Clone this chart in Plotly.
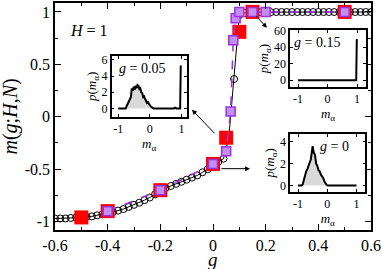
import plotly.graph_objects as go

# ---------------- data ----------------
# main curve (open circles)
circ_g = [-0.60, -0.58, -0.56, -0.54, -0.52, -0.50, -0.48, -0.46, -0.44, -0.42,
          -0.40, -0.38, -0.36, -0.34, -0.32, -0.30, -0.28, -0.26, -0.24, -0.22,
          -0.20, -0.18, -0.16, -0.14, -0.12, -0.10, -0.08, -0.06, -0.04, -0.02,
          0.00, 0.02, 0.04, 0.06, 0.08, 0.10, 0.12, 0.14, 0.16, 0.18,
          0.20, 0.22, 0.24, 0.26, 0.28, 0.30, 0.32, 0.34, 0.36, 0.38,
          0.40, 0.42, 0.44, 0.46, 0.48, 0.50, 0.52, 0.54, 0.56, 0.58, 0.60]
circ_m = [-0.97, -0.97, -0.97, -0.965, -0.96, -0.96, -0.955, -0.95, -0.94, -0.93,
          -0.92, -0.91, -0.895, -0.88, -0.86, -0.84, -0.82, -0.795, -0.77, -0.74,
          -0.71, -0.68, -0.66, -0.64, -0.62, -0.60, -0.58, -0.56, -0.53, -0.50,
          -0.47, -0.43, -0.40, -0.20, 0.36, 0.97, 0.99, 0.995, 0.997, 0.998,
          0.998, 0.998, 0.999, 0.999, 0.999, 0.999, 0.999, 0.999, 0.999, 0.999,
          0.999, 0.999, 0.999, 0.999, 0.999, 0.999, 0.999, 0.999, 0.999, 0.999, 0.999]

# red squares
red_g = [-0.50, -0.40, -0.20, 0.00, 0.05, 0.10, 0.15, 0.50]
red_m = [-0.96, -0.90, -0.70, -0.45, -0.20, 0.81, 1.00, 1.00]

# purple squares
pur_g = [-0.40, -0.20, 0.00, 0.05, 0.067, 0.077, 0.086, 0.10, 0.15, 0.20, 0.50]
pur_m = [-0.90, -0.70, -0.45, -0.33, 0.05, 0.73, 0.94, 1.00, 1.00, 1.00, 1.00]

# inset histograms
h05_m = [-1.00, -0.76, -0.72, -0.68, -0.64, -0.60, -0.57, -0.54, -0.51, -0.48,
         -0.45, -0.42, -0.39, -0.36, -0.33, -0.30, -0.27, -0.24, -0.21, -0.18,
         -0.15, -0.12, -0.09, -0.06, -0.03, 0.00, 0.04, 0.08, 0.12, 0.76,
         0.80, 0.84, 0.96, 0.98]
h05_p = [0.0, 0.0, 0.4, 0.7, 1.0, 1.4, 2.5, 2.2, 2.7, 2.3,
         2.8, 2.5, 2.9, 2.8, 2.4, 2.5, 2.0, 1.9, 1.4, 1.5,
         1.2, 1.0, 0.7, 0.8, 0.5, 0.4, 0.2, 0.1, 0.0, 0.0,
         0.1, 0.0, 0.0, 5.3]

h15_m = [-1.00, 0.97, 0.99]
h15_p = [0.0, 0.0, 50.0]

h00_m = [-1.00, -0.88, -0.84, -0.80, -0.76, -0.72, -0.68, -0.64, -0.60, -0.56,
         -0.52, -0.50, -0.46, -0.42, -0.38, -0.34, -0.30, -0.26, -0.22, -0.18,
         -0.14, -0.10, -0.06, -0.02, 0.02, 1.00]
h00_p = [0.0, 0.0, 0.1, 0.6, 0.9, 1.3, 1.5, 1.9, 2.1, 2.4,
         3.4, 3.6, 3.0, 2.8, 2.0, 1.8, 1.4, 1.3, 1.0, 0.85,
         0.7, 0.4, 0.2, 0.05, 0.0, 0.0]

x_ticks = [-0.6, -0.4, -0.2, 0, 0.2, 0.4, 0.6]
x_ticktext = ["-0.6", "-0.4", "-0.2", "0", "0.2", "0.4", "0.6"]
y_ticks = [-1, -0.5, 0, 0.5, 1]
y_ticktext = ["-1", "-0.5", "0", "0.5", "1"]

FONT = "Liberation Serif"

fig = go.Figure()

fig.add_trace(go.Scatter(x=circ_g, y=circ_m, mode="lines+markers",
                         line=dict(color="black", width=1),
                         marker=dict(symbol="circle-open", size=7, color="black",
                                     line=dict(width=1)),
                         xaxis="x", yaxis="y", showlegend=False))
fig.add_trace(go.Scatter(x=red_g, y=red_m, mode="markers",
                         marker=dict(symbol="square", size=14, color="#ff0000",
                                     line=dict(width=0)),
                         xaxis="x", yaxis="y", showlegend=False))
fig.add_trace(go.Scatter(x=pur_g, y=pur_m, mode="lines+markers",
                         line=dict(color="#9933dd", width=1.5, dash="dash"),
                         marker=dict(symbol="square", size=9, color="#c38ef0",
                                     line=dict(width=1.5, color="#9933dd")),
                         xaxis="x", yaxis="y", showlegend=False))

# insets
for (mx, py, ax_x, ax_y) in [(h05_m, h05_p, "x2", "y2"),
                             (h15_m, h15_p, "x3", "y3"),
                             (h00_m, h00_p, "x4", "y4")]:
    fig.add_trace(go.Scatter(x=mx, y=py, mode="lines", fill="tozeroy",
                             fillcolor="#d9d9d9",
                             line=dict(color="black", width=2),
                             xaxis=ax_x, yaxis=ax_y, showlegend=False))

main_ax = dict(showline=True, linecolor="black", linewidth=1.5, mirror="allticks",
               ticks="inside", ticklen=6, tickwidth=1, tickcolor="black",
               showgrid=False, zeroline=False, automargin=False,
               tickfont=dict(family=FONT, size=16, color="black"))

inset_ax = dict(showline=True, linecolor="black", linewidth=1.5, mirror="allticks",
                ticks="inside", ticklen=3, tickwidth=1, tickcolor="black",
                showgrid=False, zeroline=False, automargin=False,
                tickfont=dict(family=FONT, size=12, color="black"))

xin_title = dict(text="<i>m</i><sub>α</sub>", font=dict(family=FONT, size=13, color="black"),
                 standoff=0)
yin_title = dict(text="<i>p</i>(<i>m</i><sub>α</sub>)",
                 font=dict(family=FONT, size=13, color="black"), standoff=2)

fig.update_layout(
    width=382, height=269,
    margin=dict(l=55, r=11, t=3, b=39, autoexpand=False),
    paper_bgcolor="white", plot_bgcolor="white",
    xaxis=dict(main_ax, range=[-0.6, 0.6], tickvals=x_ticks, ticktext=x_ticktext,
               minor=dict(ticks="inside", ticklen=3, tickcolor="black",
                          tickvals=[-0.5, -0.3, -0.1, 0.1, 0.3, 0.5])),
    yaxis=dict(main_ax, range=[-1.08, 1.085], tickvals=y_ticks, ticktext=y_ticktext,
               minor=dict(ticks="inside", ticklen=3, tickcolor="black",
                          tickvals=[-0.75, -0.25, 0.25, 0.75])),
    xaxis2=dict(inset_ax, domain=[0.179, 0.417], anchor="y2", range=[-1.21, 1.17],
                tickvals=[-1, 0, 1], ticktext=["-1", "0", "1"], title=xin_title),
    yaxis2=dict(inset_ax, domain=[0.498, 0.767], anchor="x2", range=[-1.05, 6.5],
                tickvals=[0, 2, 4, 6], title=yin_title),
    xaxis3=dict(inset_ax, domain=[0.744, 0.984], anchor="y3", range=[-1.27, 1.3],
                tickvals=[-1, 0, 1], ticktext=["-1", "0", "1"], title=xin_title),
    yaxis3=dict(inset_ax, domain=[0.629, 0.881], anchor="x3", range=[-8.6, 61],
                tickvals=[0, 20, 40, 60], title=yin_title),
    xaxis4=dict(inset_ax, domain=[0.744, 0.982], anchor="y4", range=[-1.27, 1.3],
                tickvals=[-1, 0, 1], ticktext=["-1", "0", "1"], title=xin_title),
    yaxis4=dict(inset_ax, domain=[0.169, 0.423], anchor="x4", range=[-0.55, 4.7],
                tickvals=[0, 2, 4], title=yin_title),
)

# axis titles as annotations (paper coords)
fig.add_annotation(x=0.5, y=0.0, xref="paper", yref="paper", yshift=-29,
                   text="<i>g</i>", showarrow=False, yanchor="middle",
                   font=dict(family=FONT, size=19, color="black"))
fig.add_annotation(x=0, y=0.5, xref="paper", yref="paper", xshift=-45,
                   text="<i>m</i>(<i>g</i>;<i>H</i>,<i>N</i>)", textangle=-90,
                   showarrow=False, xanchor="center",
                   font=dict(family=FONT, size=20, color="black"))

# annotations: labels and arrows
ann_font = dict(family=FONT, size=16, color="black")
fig.add_annotation(x=-0.55, y=0.82, xref="x", yref="y", text="<i>H</i> = 1",
                   showarrow=False, xanchor="left", font=ann_font)
fig.add_annotation(x=-1.05, y=5.0, xref="x2", yref="y2", text="<i>g</i> = 0.05",
                   showarrow=False, xanchor="left",
                   font=dict(family=FONT, size=14, color="black"))
fig.add_annotation(x=-0.37, y=45.6, xref="x3", yref="y3", text="<i>g</i> = 0.15",
                   showarrow=False, font=dict(family=FONT, size=14, color="black"))
fig.add_annotation(x=0.25, y=3.56, xref="x4", yref="y4", text="<i>g</i> = 0",
                   showarrow=False, font=dict(family=FONT, size=14, color="black"))

arrow_style = dict(showarrow=True, arrowhead=2, arrowsize=1, arrowwidth=1,
                   arrowcolor="black", text="", xref="x", yref="y")
fig.add_annotation(x=-0.080, y=0.067, ax=24, ay=25, **arrow_style)
fig.add_annotation(x=0.205, y=0.848, ax=-12, ay=-13, **arrow_style)
fig.add_annotation(x=0.1405, y=-0.495, ax=-30, ay=0, **arrow_style)

fig.write_html("out.html", config={"displayModeBar": False},
               post_script="document.body.style.margin='0';document.body.style.padding='0';")
